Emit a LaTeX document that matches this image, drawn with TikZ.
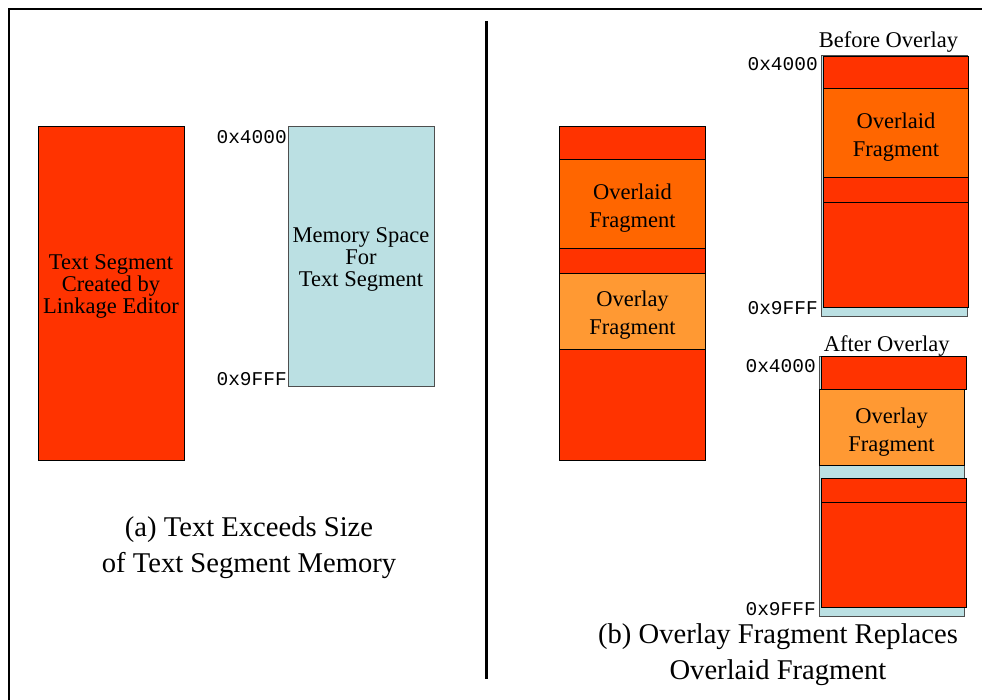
\documentclass[tikz,border=0pt]{standalone}
\usepackage{fontspec}
\setmainfont{Liberation Serif}
\setmonofont{Liberation Mono}
\definecolor{segred}{HTML}{FF3300}
\definecolor{overlaid}{HTML}{FF6600}
\definecolor{overlay}{HTML}{FF9933}
\definecolor{memblue}{HTML}{BBE0E3}
\definecolor{edge}{HTML}{222222}
\tikzset{
  redbox/.style={fill=segred, draw=black, line width=0.9pt},
  orangebox/.style={fill=overlaid, draw=black, line width=0.9pt},
  lightbox/.style={fill=overlay, draw=black, line width=0.9pt},
  membox/.style={fill=memblue, draw=edge!80, line width=0.9pt},
  boxtext/.style={align=center, inner sep=0pt, font=\fontsize{22.5}{22}\selectfont},
  fragtext/.style={align=center, inner sep=0pt, font=\fontsize{22.5}{28}\selectfont},
  addr/.style={anchor=east, inner sep=0pt, font=\fontsize{19.5}{20}\selectfont\ttfamily},
  caption/.style={align=center, inner sep=0pt, font=\fontsize{28.6}{36}\selectfont},
  heading/.style={inner sep=0pt, font=\fontsize{22.5}{24}\selectfont},
}
\begin{document}
\begin{tikzpicture}[x=1pt, y=-1pt]
  \useasboundingbox (0,0) rectangle (982,700);
  \fill[white] (0,0) rectangle (982,700);

  % outer frame (open to the right and bottom) and the divider
  \draw[line width=1.8pt] (8.7,720) -- (8.7,9.3) -- (990,9.3);
  \draw[line width=3pt] (486.7,21) -- (486.7,679);

  % ---- (a) left half ----
  \draw[redbox] (38.3,126.7) rectangle (184.3,460);
  \node[boxtext] (seg) at (111,286) {Text Segment\\Created by\\Linkage Editor};

  \draw[membox] (288.5,126.5) rectangle (434.3,386);
  \node[boxtext] (mem) at (361,259) {Memory Space\\For\\Text Segment};
  \node[addr] (a1) at (287,137) {0x4000};
  \node[addr] (a2) at (287,379) {0x9FFF};

  \node[caption] (capa) at (249,548) {(a) Text Exceeds Size\\of Text Segment Memory};

  % ---- (b) middle column: full text segment ----
  \draw[redbox] (559.3,126.7) rectangle (705.7,159.3);
  \draw[orangebox] (559.3,159.3) rectangle (705.7,248.3);
  \draw[redbox] (559.3,248.3) rectangle (705.7,273.3);
  \draw[lightbox] (559.3,273.3) rectangle (705.7,349.7);
  \draw[redbox] (559.3,349.7) rectangle (705.7,460);
  \node[fragtext] (mid1) at (632.5,208) {Overlaid\\Fragment};
  \node[fragtext] (mid2) at (632.5,315) {Overlay\\Fragment};

  % ---- (b) before overlay ----
  \node[heading] (before) at (888.5,42) {Before Overlay};
  \draw[membox] (821.7,55) rectangle (967.7,316);
  \draw[redbox] (823.3,56) rectangle (968.7,88.3);
  \draw[orangebox] (823.3,88.3) rectangle (968.7,177.3);
  \draw[redbox] (823.3,177.3) rectangle (968.7,202.3);
  \draw[redbox] (823.3,202.3) rectangle (968.7,307.3);
  \node[fragtext] (bf1) at (896,137) {Overlaid\\Fragment};
  \node[addr] (b1) at (818,64) {0x4000};
  \node[addr] (b2) at (818,308) {0x9FFF};

  % ---- (b) after overlay ----
  \node[heading] (after) at (886.7,346) {After Overlay};
  \draw[membox] (819,356) rectangle (964.3,616);
  \draw[redbox] (821,356) rectangle (966.7,389);
  \draw[lightbox] (819,389) rectangle (964.3,465.7);
  \draw[redbox] (821,478.3) rectangle (966.7,502.3);
  \draw[redbox] (821,502.3) rectangle (966.7,607.3);
  \node[fragtext] (af1) at (891.5,432) {Overlay\\Fragment};
  \node[addr] (c1) at (816,366) {0x4000};
  \node[addr] (c2) at (816,609) {0x9FFF};

  \node[caption] (capb) at (778,655) {(b) Overlay Fragment Replaces\\Overlaid Fragment};
\end{tikzpicture}
\end{document}
